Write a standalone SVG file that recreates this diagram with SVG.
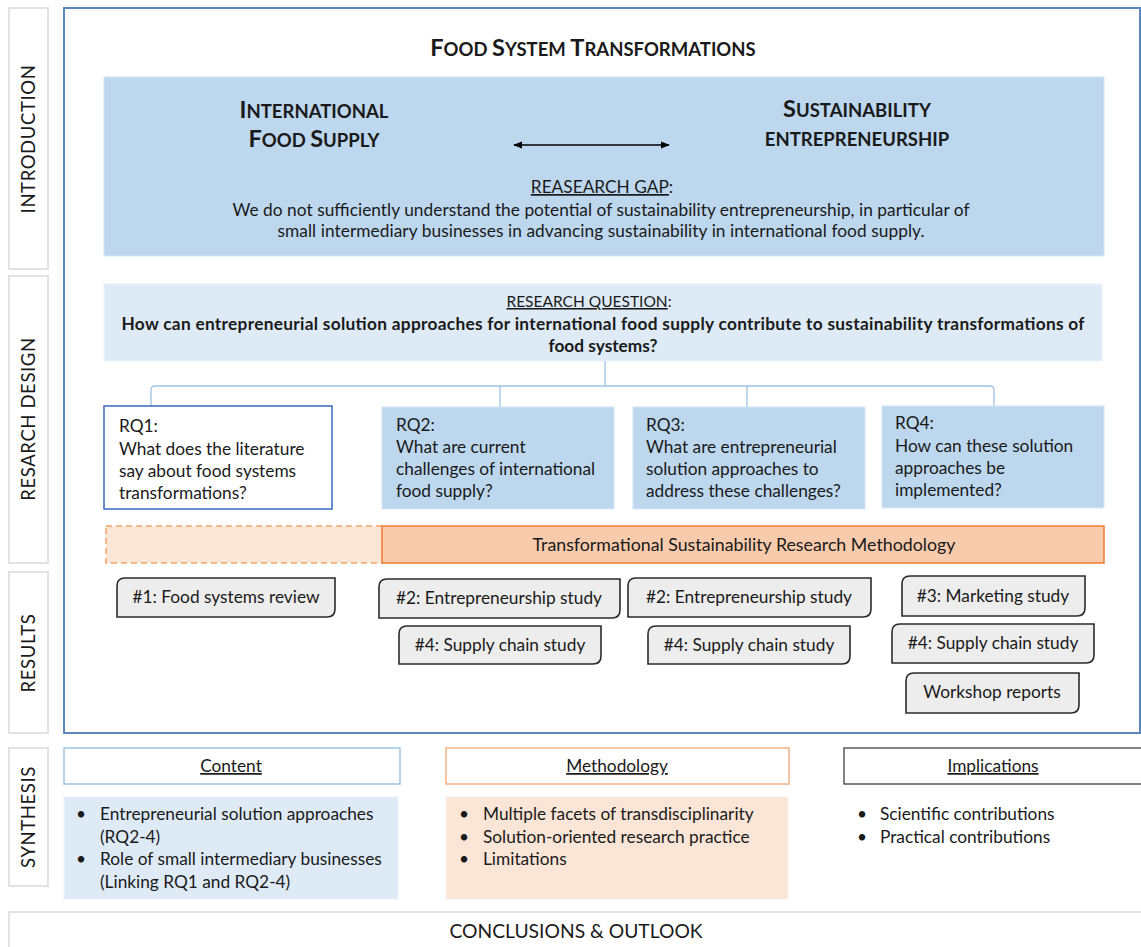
<svg xmlns="http://www.w3.org/2000/svg" width="1141" height="947" viewBox="0 0 1141 947">
  <style>
    text { font-family: "Lato", "Open Sans", "Liberation Sans", sans-serif; fill: #1a1a1a; }
    .side { fill: #ffffff; stroke: #e2e2e2; stroke-width: 2; }
    .sidelbl { font-size: 18.5px; letter-spacing: 0.6px; text-anchor: middle; }
    .frame { fill: #ffffff; stroke: #5b87bf; stroke-width: 2; }
    .dark { fill: #bdd7ee; stroke: #d6e6f4; stroke-width: 1; }
    .light { fill: #deebf7; stroke: #eaf2fa; stroke-width: 1; }
    .t16 { font-size: 17.3px; }
    .mid { text-anchor: middle; }
    .b { font-weight: bold; }
    .u { text-decoration: underline; }
    .res { fill: #ededed; stroke: #2b2b2b; stroke-width: 1.6; }
    .tree { fill: none; stroke: #9dc3e6; stroke-width: 1.3; }
  </style>
  <defs>
    <marker id="ah" viewBox="0 0 10 10" refX="9" refY="5" markerWidth="9" markerHeight="9" orient="auto-start-reverse" markerUnits="userSpaceOnUse">
      <path d="M0,1 L10,5 L0,9 Z" fill="#000"/>
    </marker>
  </defs>

  <rect width="1141" height="947" fill="#ffffff"/>

  <!-- stage labels on the left -->
  <g id="stage-introduction">
    <rect class="side" x="9" y="8" width="39" height="261"/>
    <text class="sidelbl" transform="translate(35,139) rotate(-90)">INTRODUCTION</text>
  </g>
  <g id="stage-design">
    <rect class="side" x="9" y="276" width="39" height="287"/>
    <text class="sidelbl" transform="translate(35,419) rotate(-90)">RESARCH DESIGN</text>
  </g>
  <g id="stage-results">
    <rect class="side" x="9" y="572" width="39" height="161"/>
    <text class="sidelbl" transform="translate(35,653) rotate(-90)">RESULTS</text>
  </g>
  <g id="stage-synthesis">
    <rect class="side" x="9" y="748" width="39" height="138"/>
    <text class="sidelbl" transform="translate(35,817) rotate(-90)">SYNTHESIS</text>
  </g>

  <!-- main frame -->
  <rect class="frame" x="64" y="8" width="1076" height="725"/>

  <g id="title">
    <text class="mid b" x="593" y="56"><tspan font-size="23.5">F</tspan><tspan font-size="18.5">OOD </tspan><tspan font-size="23.5">S</tspan><tspan font-size="18.5">YSTEM </tspan><tspan font-size="23.5">T</tspan><tspan font-size="18.5">RANSFORMATIONS</tspan></text>
  </g>

  <!-- introduction box -->
  <g id="intro-box">
    <rect class="dark" x="104" y="77" width="1000" height="179"/>
    <text class="mid b" x="314" y="118"><tspan font-size="23.5">I</tspan><tspan font-size="18.5">NTERNATIONAL</tspan></text>
    <text class="mid b" x="314" y="147"><tspan font-size="23.5">F</tspan><tspan font-size="18.5">OOD </tspan><tspan font-size="23.5">S</tspan><tspan font-size="18.5">UPPLY</tspan></text>
    <text class="mid b" x="857" y="117"><tspan font-size="23.5">S</tspan><tspan font-size="18.5">USTAINABILITY</tspan></text>
    <text class="mid b" x="857" y="146" font-size="18.5">ENTREPRENEURSHIP</text>
    <text class="mid t16" x="602" y="193"><tspan class="u">REASEARCH GAP</tspan>:</text>
    <text class="mid t16" x="601" y="216" textLength="737" lengthAdjust="spacing">We do not sufficiently understand the potential of sustainability entrepreneurship, in particular of</text>
    <text class="mid t16" x="601" y="237" textLength="647" lengthAdjust="spacing">small intermediary businesses in advancing sustainability in international food supply.</text>
  </g>

  <!-- research question -->
  <g id="research-question">
    <rect class="light" x="104" y="284" width="998" height="77"/>
    <text class="mid" x="589" y="307" font-size="15.5"><tspan class="u">RESEARCH QUESTION</tspan>:</text>
    <text class="mid t16 b" x="603" y="330" textLength="963" lengthAdjust="spacing">How can entrepreneurial solution approaches for international food supply contribute to sustainability transformations of</text>
    <text class="mid t16 b" x="603" y="352">food systems?</text>
  </g>

  <!-- tree connectors -->
  <g id="connectors">
    <path class="tree" d="M605,361 V386"/>
    <path class="tree" d="M151,406 V390 Q151,386 155,386 H990 Q994,386 994,390 V406"/>
    <path class="tree" d="M500,386 V407"/>
    <path class="tree" d="M747,386 V407"/>
    <line x1="514" y1="145" x2="669" y2="145" stroke="#000" stroke-width="1.3" marker-start="url(#ah)" marker-end="url(#ah)"/>
  </g>

  <!-- sub-questions -->
  <g id="rq1">
    <rect x="104" y="406" width="228" height="103" fill="#ffffff" stroke="#4472c4" stroke-width="1.6"/>
    <text class="t16" x="119" y="432">RQ1:</text>
    <text class="t16" x="119" y="455">What does the literature</text>
    <text class="t16" x="119" y="477">say about food systems</text>
    <text class="t16" x="119" y="499">transformations?</text>
  </g>
  <g id="rq2">
    <rect class="dark" x="382" y="407" width="232" height="102"/>
    <text class="t16" x="396" y="431">RQ2:</text>
    <text class="t16" x="396" y="453">What are current</text>
    <text class="t16" x="396" y="475">challenges of international</text>
    <text class="t16" x="396" y="497">food supply?</text>
  </g>
  <g id="rq3">
    <rect class="dark" x="633" y="407" width="232" height="102"/>
    <text class="t16" x="646" y="431">RQ3:</text>
    <text class="t16" x="646" y="453">What are entrepreneurial</text>
    <text class="t16" x="646" y="475">solution approaches to</text>
    <text class="t16" x="646" y="497">address these challenges?</text>
  </g>
  <g id="rq4">
    <rect class="dark" x="882" y="406" width="222" height="102"/>
    <text class="t16" x="895" y="429">RQ4:</text>
    <text class="t16" x="895" y="452">How can these solution</text>
    <text class="t16" x="895" y="474">approaches be</text>
    <text class="t16" x="895" y="496">implemented?</text>
  </g>

  <!-- methodology band -->
  <g id="method-band">
    <rect x="106" y="526" width="277" height="37" fill="#fbe5d6" stroke="#f4a46a" stroke-width="1.5" stroke-dasharray="6,4"/>
    <rect x="382" y="526" width="722" height="37" fill="#f8cbad" stroke="#ed7d31" stroke-width="1.5"/>
    <text class="mid" x="744" y="551" font-size="17.8">Transformational Sustainability Research Methodology</text>
  </g>

  <!-- studies -->
  <g id="study-1">
    <path class="res" d="M125,578 H335 V609 Q335,617 327,617 H117 V586 Q117,578 125,578 Z"/>
    <text class="mid t16" x="226" y="603">#1: Food systems review</text>
  </g>
  <g id="study-2a">
    <path class="res" d="M387,579 H620 V610 Q620,618 612,618 H379 V587 Q379,579 387,579 Z"/>
    <text class="mid t16" x="499" y="604">#2: Entrepreneurship study</text>
  </g>
  <g id="study-4a">
    <path class="res" d="M407,626 H601 V656 Q601,664 593,664 H399 V634 Q399,626 407,626 Z"/>
    <text class="mid t16" x="500" y="651">#4: Supply chain study</text>
  </g>
  <g id="study-2b">
    <path class="res" d="M636,578 H871 V609 Q871,617 863,617 H628 V586 Q628,578 636,578 Z"/>
    <text class="mid t16" x="749" y="603">#2: Entrepreneurship study</text>
  </g>
  <g id="study-4b">
    <path class="res" d="M656,626 H850 V656 Q850,664 842,664 H648 V634 Q648,626 656,626 Z"/>
    <text class="mid t16" x="749" y="651">#4: Supply chain study</text>
  </g>
  <g id="study-3">
    <path class="res" d="M910,576 H1085 V608 Q1085,616 1077,616 H902 V584 Q902,576 910,576 Z"/>
    <text class="mid t16" x="993" y="602">#3: Marketing study</text>
  </g>
  <g id="study-4c">
    <path class="res" d="M900,624 H1094 V655 Q1094,663 1086,663 H892 V632 Q892,624 900,624 Z"/>
    <text class="mid t16" x="993" y="649">#4: Supply chain study</text>
  </g>
  <g id="workshops">
    <path class="res" d="M914,673 H1079 V705 Q1079,713 1071,713 H906 V681 Q906,673 914,673 Z"/>
    <text class="mid t16" x="992" y="698">Workshop reports</text>
  </g>

  <!-- synthesis -->
  <g id="syn-content">
    <rect x="64" y="748" width="336" height="36" fill="#ffffff" stroke="#9dc3e6" stroke-width="1.5"/>
    <text class="mid t16 u" x="231" y="772">Content</text>
    <rect class="light" x="64" y="797" width="334" height="102"/>
    <text class="t16" x="76" y="820">•</text>
    <text class="t16" x="100" y="820">Entrepreneurial solution approaches</text>
    <text class="t16" x="100" y="843">(RQ2-4)</text>
    <text class="t16" x="76" y="865">•</text>
    <text class="t16" x="100" y="865">Role of small intermediary businesses</text>
    <text class="t16" x="100" y="888">(Linking RQ1 and RQ2-4)</text>
  </g>
  <g id="syn-method">
    <rect x="446" y="748" width="343" height="36" fill="#ffffff" stroke="#f4b183" stroke-width="1.5"/>
    <text class="mid t16 u" x="617" y="772">Methodology</text>
    <rect x="446" y="797" width="342" height="102" fill="#fbe5d6" stroke="#fcefe6" stroke-width="1"/>
    <text class="t16" x="459" y="820">•</text>
    <text class="t16" x="483" y="820">Multiple facets of transdisciplinarity</text>
    <text class="t16" x="459" y="843">•</text>
    <text class="t16" x="483" y="843">Solution-oriented research practice</text>
    <text class="t16" x="459" y="865">•</text>
    <text class="t16" x="483" y="865">Limitations</text>
  </g>
  <g id="syn-implications">
    <rect x="844" y="748" width="300" height="36" fill="#ffffff" stroke="#404040" stroke-width="1.3"/>
    <text class="mid t16 u" x="993" y="772">Implications</text>
    <text class="t16" x="857" y="820">•</text>
    <text class="t16" x="880" y="820">Scientific contributions</text>
    <text class="t16" x="857" y="843">•</text>
    <text class="t16" x="880" y="843">Practical contributions</text>
  </g>

  <!-- closing band -->
  <g id="conclusions">
    <rect x="9" y="912" width="1140" height="40" fill="#ffffff" stroke="#e2e2e2" stroke-width="2"/>
    <text class="mid" x="576" y="938" font-size="19.3">CONCLUSIONS &amp; OUTLOOK</text>
  </g>
</svg>
